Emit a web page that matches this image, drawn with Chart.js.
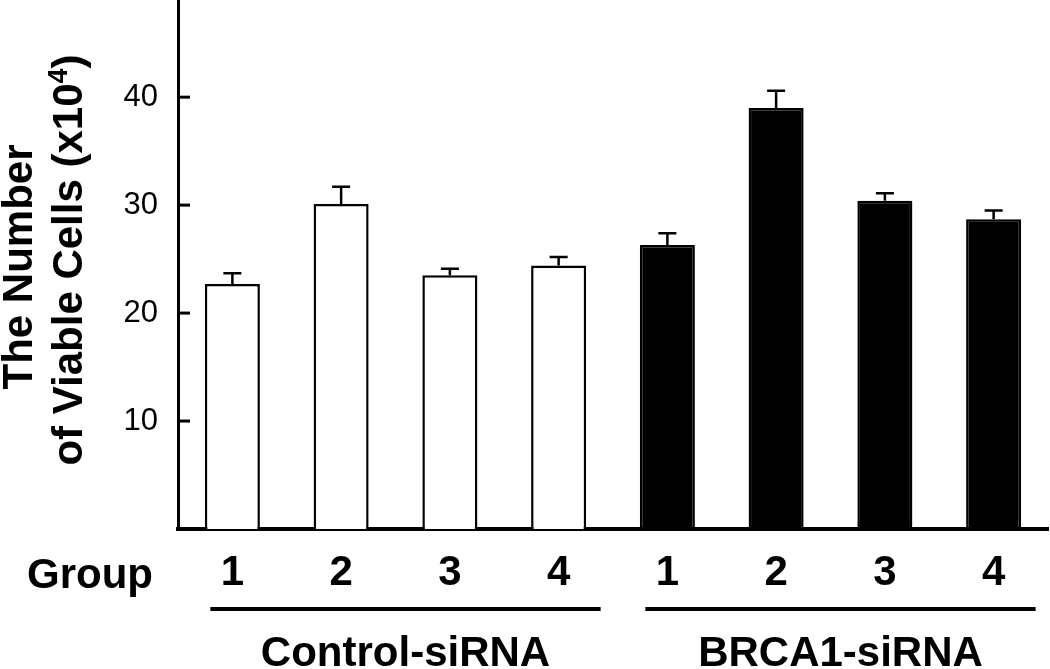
<!DOCTYPE html>
<html>
<head>
<meta charset="utf-8">
<title>Viable Cells</title>
<script src="https://cdn.jsdelivr.net/npm/chart.js@4.4.1/dist/chart.umd.min.js"></script>
<style>
    html, body { margin: 0; padding: 0; background: #fff; }
    #wrap { width: 1050px; height: 669px; position: relative; }
</style>
</head>
<body>
<div id="wrap"><canvas id="cellChart"></canvas></div>
<script>
// Viable cell counts per group (x10^4)
const groupLabels = ['1', '2', '3', '4', '1', '2', '3', '4'];
const viableCells = [22.7, 30.1, 23.5, 24.4, 26.3, 39.0, 30.4, 28.7];
const cellErrors = [1.0, 1.6, 0.6, 0.8, 1.1, 1.6, 0.7, 0.8];
const treatmentNames = ['Control-siRNA', 'BRCA1-siRNA'];
const groupSize = 4;
const yTickValues = [10, 20, 30, 40];

const FONT = '"Liberation Sans", Arial, Helvetica, sans-serif';

// white bars for control, black for BRCA1
const barColors = viableCells.map((v, i) => i < groupSize ? '#ffffff' : '#000000');

// error bars (upper only) drawn after the bars
const errorBarPlugin = {
    id: 'errorBars',
    afterDatasetsDraw(chart) {
        const ctx = chart.ctx;
        const meta = chart.getDatasetMeta(0);
        const y = chart.scales.y;
        ctx.save();
        ctx.strokeStyle = '#000';
        ctx.lineWidth = 2.5;
        meta.data.forEach((bar, i) => {
            const top = y.getPixelForValue(viableCells[i]);
            const end = y.getPixelForValue(viableCells[i] + cellErrors[i]);
            ctx.beginPath();
            ctx.moveTo(bar.x, top);
            ctx.lineTo(bar.x, end);
            ctx.moveTo(bar.x - 9, end);
            ctx.lineTo(bar.x + 9, end);
            ctx.stroke();
        });
        ctx.restore();
    }
};

// rotated title line with a real superscript at the end
function drawSuperTitle(ctx, base, sup, tail, cx, cy) {
    const big = 'bold 42px ' + FONT;
    const small = 'bold 27px ' + FONT;
    ctx.font = big;
    const wBase = ctx.measureText(base).width;
    const wTail = ctx.measureText(tail).width;
    ctx.font = small;
    const wSup = ctx.measureText(sup).width;
    const total = wBase + wSup + wTail;

    ctx.save();
    ctx.translate(cx, cy);
    ctx.rotate(-Math.PI / 2);
    ctx.textAlign = 'left';
    let x = -total / 2;
    ctx.font = big;
    ctx.fillText(base, x, 0);
    x += wBase;
    ctx.font = small;
    ctx.fillText(sup, x, -15);
    x += wSup;
    ctx.font = big;
    ctx.fillText(tail, x, 0);
    ctx.restore();
}

// inward y ticks, axis title, "Group" label and treatment brackets
const decorPlugin = {
    id: 'decor',
    afterDraw(chart) {
        const ctx = chart.ctx;
        const area = chart.chartArea;
        const x = chart.scales.x;
        const y = chart.scales.y;
        ctx.save();

        // tick marks pointing into the plot
        ctx.strokeStyle = '#000';
        ctx.lineWidth = 3;
        yTickValues.forEach(v => {
            const py = y.getPixelForValue(v);
            ctx.beginPath();
            ctx.moveTo(area.left, py);
            ctx.lineTo(area.left + 12, py);
            ctx.stroke();
        });

        // y axis title, two rotated lines
        ctx.fillStyle = '#000';
        ctx.font = 'bold 42px ' + FONT;
        ctx.textAlign = 'center';
        ctx.textBaseline = 'alphabetic';
        ctx.save();
        ctx.translate(32, 267);
        ctx.rotate(-Math.PI / 2);
        ctx.fillText('The Number', 0, 0);
        ctx.restore();
        drawSuperTitle(ctx, 'of Viable Cells (x10', '4', ')', 82, 260);

        // row label for the group numbers
        ctx.font = 'bold 42px ' + FONT;
        ctx.textAlign = 'left';
        ctx.fillText('Group', 27, 588);

        // bracket line + name under each treatment
        treatmentNames.forEach((name, g) => {
            const first = x.getPixelForValue(g * groupSize);
            const last = x.getPixelForValue(g * groupSize + groupSize - 1);
            const x0 = first - 22;
            const x1 = last + 42;
            ctx.lineWidth = 4;
            ctx.beginPath();
            ctx.moveTo(x0, 609);
            ctx.lineTo(x1, 609);
            ctx.stroke();
            ctx.textAlign = 'center';
            ctx.fillText(name, (x0 + x1) / 2, 666);
        });

        ctx.restore();
    }
};

document.addEventListener('DOMContentLoaded', function() {
    const ctx = document.getElementById('cellChart');

    new Chart(ctx, {
        type: 'bar',
        data: {
            labels: groupLabels,
            datasets: [{
                data: viableCells,
                backgroundColor: barColors,
                borderColor: '#000',
                borderWidth: 2.5,
                categoryPercentage: 1,
                barPercentage: 0.506
            }]
        },
        options: {
            responsive: true,
            maintainAspectRatio: false,
            animation: false,
            layout: { padding: { left: 0, right: 2, top: 0, bottom: 0 } },
            plugins: {
                legend: { display: false },
                tooltip: { enabled: false }
            },
            scales: {
                x: {
                    grid: { display: false, drawTicks: false },
                    border: { display: true, color: '#000', width: 4 },
                    ticks: {
                        color: '#000',
                        padding: 19,
                        font: { family: FONT, size: 42, weight: 'bold' }
                    },
                    afterFit(scale) {
                        scale.height = 140;
                        scale.paddingLeft = 0;
                        scale.paddingRight = 0;
                    }
                },
                y: {
                    min: 0,
                    max: 49,
                    grid: { display: false, drawTicks: false },
                    border: { display: true, color: '#000', width: 3 },
                    afterBuildTicks(scale) {
                        scale.ticks = yTickValues.map(v => ({ value: v }));
                    },
                    ticks: {
                        color: '#000',
                        padding: 20,
                        font: { family: FONT, size: 31 }
                    },
                    afterFit(scale) {
                        scale.width = 178;
                        scale.paddingTop = 0;
                        scale.paddingBottom = 0;
                    }
                }
            }
        },
        plugins: [errorBarPlugin, decorPlugin]
    });
});
</script>
</body>
</html>
